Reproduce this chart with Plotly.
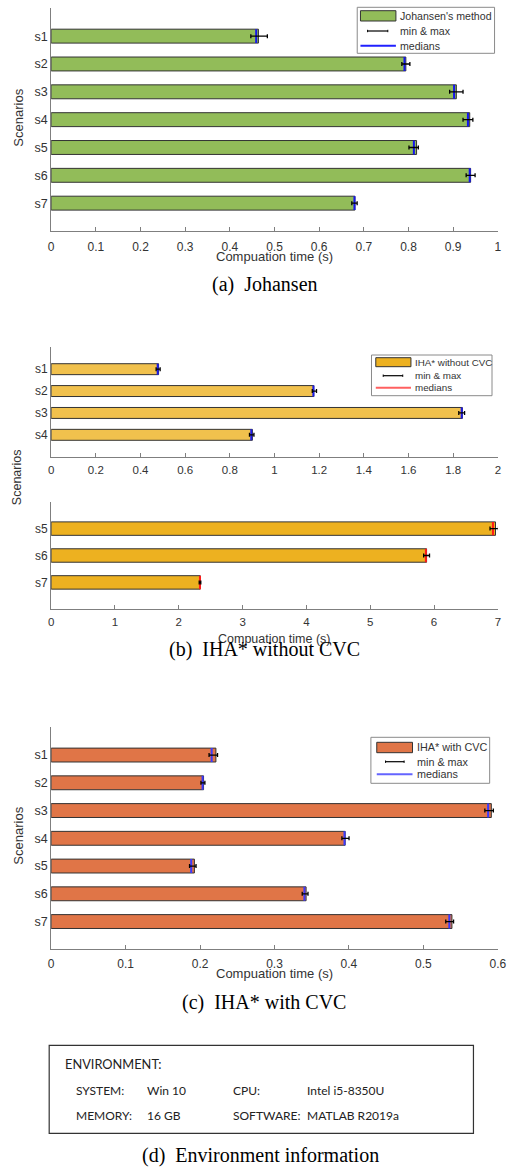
import plotly.graph_objects as go

W, H = 514, 1168

# ---------------- data ----------------
scen_a = ["s1", "s2", "s3", "s4", "s5", "s6", "s7"]
johansen_mean = [0.464, 0.794, 0.907, 0.937, 0.818, 0.939, 0.680]
johansen_median = [0.459, 0.791, 0.902, 0.933, 0.812, 0.937, 0.679]
johansen_min = [0.447, 0.785, 0.892, 0.922, 0.801, 0.929, 0.673]
johansen_max = [0.484, 0.803, 0.922, 0.944, 0.822, 0.949, 0.685]
ticks_a = [0, 0.1, 0.2, 0.3, 0.4, 0.5, 0.6, 0.7, 0.8, 0.9, 1]

scen_b1 = ["s1", "s2", "s3", "s4"]
nocvc_mean_1 = [0.481, 1.176, 1.841, 0.901]
nocvc_median_1 = [0.477, 1.174, 1.838, 0.896]
nocvc_min_1 = [0.470, 1.169, 1.825, 0.888]
nocvc_max_1 = [0.488, 1.188, 1.851, 0.908]
ticks_b1 = [0, 0.2, 0.4, 0.6, 0.8, 1, 1.2, 1.4, 1.6, 1.8, 2]

scen_b2 = ["s5", "s6", "s7"]
nocvc_mean_2 = [6.963, 5.883, 2.337]
nocvc_median_2 = [6.923, 5.872, 2.332]
nocvc_min_2 = [6.877, 5.837, 2.320]
nocvc_max_2 = [7.010, 5.929, 2.345]
ticks_b2 = [0, 1, 2, 3, 4, 5, 6, 7]

scen_c = ["s1", "s2", "s3", "s4", "s5", "s6", "s7"]
cvc_mean = [0.2213, 0.2047, 0.5912, 0.3949, 0.1924, 0.3424, 0.5383]
cvc_median = [0.2156, 0.2034, 0.5869, 0.3940, 0.1881, 0.3402, 0.5348]
cvc_min = [0.2121, 0.2012, 0.5825, 0.3905, 0.1859, 0.3372, 0.5300]
cvc_max = [0.2235, 0.2065, 0.5939, 0.4001, 0.1946, 0.3450, 0.5405]
ticks_c = [0, 0.1, 0.2, 0.3, 0.4, 0.5, 0.6]

legend_a = ["Johansen's method", "min & max", "medians"]
legend_b = ["IHA* without CVC", "min & max", "medians"]
legend_c = ["IHA* with CVC", "min & max", "medians"]
captions = ["(a)\u00a0\u00a0Johansen", "(b)\u00a0\u00a0IHA* without CVC",
            "(c)\u00a0\u00a0IHA* with CVC", "(d)\u00a0\u00a0Environment information"]
env_title = "ENVIRONMENT:"
env_rows = [["SYSTEM:", "Win 10", "CPU:", "Intel i5-8350U"],
            ["MEMORY:", "16 GB", "SOFTWARE:", "MATLAB R2019a"]]

# ---------------- helpers ----------------
def X(px):
    return px / W

def Y(py):
    return 1 - py / H

GREEN = "#92BC59"
YEL_L = "#F1C14D"
YEL = "#EDB120"
ORG = "#E07547"
EDGE = "#333333"
AX = "#7f7f7f"
TXT = "#333333"
FONT = "Liberation Sans, Arial, sans-serif"

fig = go.Figure()

def add_panel(k, names, start, mean, med, mn, mx, color, medcolor):
    xa = "x" if k == 1 else f"x{k}"
    ya = "y" if k == 1 else f"y{k}"
    pos = [start + i for i in range(len(names))]
    fig.add_trace(go.Bar(x=mean, y=pos, orientation="h", width=0.5,
                         marker=dict(color=color, line=dict(color=EDGE, width=1)),
                         xaxis=xa, yaxis=ya, showlegend=False, hoverinfo="skip"))
    lx, ly = [], []
    for p, m in zip(pos, med):
        lx += [m, m, None]
        ly += [p - 0.25, p + 0.25, None]
    fig.add_trace(go.Scatter(x=lx, y=ly, mode="lines", line=dict(color=medcolor, width=2),
                             xaxis=xa, yaxis=ya, showlegend=False, hoverinfo="skip",
                             cliponaxis=False))
    fig.add_trace(go.Scatter(x=med, y=pos, mode="markers", marker=dict(size=1, opacity=0),
                             error_x=dict(type="data", symmetric=False,
                                          array=[b - m for b, m in zip(mx, med)],
                                          arrayminus=[m - a for a, m in zip(mn, med)],
                                          width=2, thickness=1.3, color="black"),
                             xaxis=xa, yaxis=ya, showlegend=False, hoverinfo="skip",
                             cliponaxis=False))
    return pos

add_panel(1, scen_a, 1, johansen_mean, johansen_median, johansen_min, johansen_max, GREEN, "#1414ee")
add_panel(2, scen_b1, 1, nocvc_mean_1, nocvc_median_1, nocvc_min_1, nocvc_max_1, YEL_L, "#1a1aee")
add_panel(3, scen_b2, 5, nocvc_mean_2, nocvc_median_2, nocvc_min_2, nocvc_max_2, YEL, "#ff1a1a")
add_panel(4, scen_c, 1, cvc_mean, cvc_median, cvc_min, cvc_max, ORG, "#3a3aff")

def xaxis(dom_px, rng, ticks, anchor, standoff, size=12):
    return dict(domain=[X(dom_px[0]), X(dom_px[1])], range=rng, tickvals=ticks,
                ticktext=[f"{t:g}" for t in ticks], anchor=anchor,
                showline=True, linecolor=AX, linewidth=1, ticks="inside", ticklen=4,
                tickcolor=AX, showgrid=False, zeroline=False,
                tickfont=dict(family=FONT, size=size, color=TXT),
                ticklabelstandoff=standoff, fixedrange=True)

def yaxis(dom_py, rng, names, start, anchor, size=12.5):
    return dict(domain=[Y(dom_py[1]), Y(dom_py[0])], range=rng,
                tickvals=[start + i for i in range(len(names))], ticktext=names,
                anchor=anchor, showline=True, linecolor=AX, linewidth=1, ticks="",
                showgrid=False, zeroline=False,
                tickfont=dict(family=FONT, size=size, color=TXT), fixedrange=True)

XD = (49.3, 506.7)
fig.update_layout(
    xaxis=xaxis(XD, [0, 1], ticks_a, "y", 5),
    yaxis=yaxis((8.3, 231), [8, 0], scen_a, 1, "x"),
    xaxis2=xaxis(XD, [0, 2], ticks_b1, "y2", 2, 11.5),
    yaxis2=yaxis((347.3, 456.7), [5, 0], scen_b1, 1, "x2", 12),
    xaxis3=xaxis(XD, [0, 7], ticks_b2, "y3", 2, 11.5),
    yaxis3=yaxis((501.7, 609.3), [8, 4], scen_b2, 5, "x3", 12),
    xaxis4=xaxis(XD, [0, 0.6], ticks_c, "y4", 3),
    yaxis4=yaxis((727.3, 949.3), [8, 0], scen_c, 1, "x4"),
)

shapes = []
ann = []

def text(x, y, s, size, family=FONT, color=TXT, xanchor="center", angle=0):
    ann.append(dict(x=X(x), y=Y(y), xref="paper", yref="paper", text=s, showarrow=False,
                    xanchor=xanchor, yanchor="middle", textangle=angle,
                    font=dict(family=family, size=size, color=color)))

# axis titles
text(278.3, 256, "Compuation time (s)", 13)
text(278.3, 639, "Compuation time (s)", 12.5)
text(278.3, 974, "Compuation time (s)", 13)
text(15, 118, "Scenarios", 13, angle=-90)
text(15, 477.5, "Scenarios", 12.5, angle=-90)
text(15, 836, "Scenarios", 13, angle=-90)

# legends
def legend(box, sw, rows, text_x, mm, labels, color, medcolor, size):
    shapes.append(dict(type="rect", xref="paper", yref="paper", x0=X(box[0]), x1=X(box[1]),
                       y0=Y(box[3]), y1=Y(box[2]), line=dict(color="#8a8a8a", width=1),
                       fillcolor="white", layer="above"))
    shapes.append(dict(type="rect", xref="paper", yref="paper", x0=X(sw[0]), x1=X(sw[1]),
                       y0=Y(sw[3]), y1=Y(sw[2]), line=dict(color=EDGE, width=1),
                       fillcolor=color, layer="above"))
    shapes.append(dict(type="line", xref="paper", yref="paper", x0=X(mm[0]), x1=X(mm[1]),
                       y0=Y(rows[1]), y1=Y(rows[1]), line=dict(color="black", width=1.2),
                       layer="above"))
    for xx in mm:
        shapes.append(dict(type="line", xref="paper", yref="paper", x0=X(xx), x1=X(xx),
                           y0=Y(rows[1] - 1.2), y1=Y(rows[1] + 1.2),
                           line=dict(color="black", width=1), layer="above"))
    shapes.append(dict(type="line", xref="paper", yref="paper", x0=X(sw[0]), x1=X(sw[1]),
                       y0=Y(rows[2]), y1=Y(rows[2]), line=dict(color=medcolor, width=2),
                       layer="above"))
    for r, lab in zip(rows, labels):
        text(text_x, r, lab, size, xanchor="left")

legend((362.7, 503.3, 7.3, 53.3), (366, 402.3, 10.7, 21), (16, 31, 45.7), 404,
       (373.3, 394), legend_a, GREEN, "#2020ff", 10.6)
legend((377.3, 500.7, 355, 395.7), (381.7, 417.7, 357.7, 366.7), (362.3, 375.7, 387.7), 419.5,
       (389.3, 409.3), legend_b, YEL, "#ff6060", 9.8)
legend((376.7, 498.3, 737.3, 783.3), (382.7, 419.3, 742.3, 752.7), (746.7, 761.7, 774.3), 421.5,
       (391.7, 410.7), legend_c, ORG, "#6464ff", 10.8)

# captions
SERIF = "Liberation Serif, Times New Roman, serif"
text(268, 285, captions[0], 20, SERIF, "black")
text(268, 650, captions[1], 20, SERIF, "black")
text(267.5, 1002.5, captions[2], 20, SERIF, "black")
text(264, 1155.5, captions[3], 20, SERIF, "black")

# environment box
shapes.append(dict(type="rect", xref="paper", yref="paper", x0=X(47.3), x1=X(481.7),
                   y0=Y(1133.3), y1=Y(1045.3), line=dict(color="#333333", width=1.2)))
ENVF = "Lato, Carlito, sans-serif"
text(61, 1064.3, env_title, 12.8, ENVF, "#222222", xanchor="left")
cols = [72.5, 145.5, 233.5, 309.5]
for ry, row in zip([1090, 1115.7], env_rows):
    for cx, s in zip(cols, row):
        text(cx, ry, s, 12, ENVF, "#222222", xanchor="left")

fig.update_layout(width=W, height=H, autosize=False,
                  margin=dict(l=0, r=0, t=0, b=0, pad=0),
                  paper_bgcolor="white", plot_bgcolor="white",
                  shapes=shapes, annotations=ann, showlegend=False, barmode="overlay")

fig.write_html("out.html", config={"displayModeBar": False, "staticPlot": True},
               post_script="document.body.style.margin='0';document.body.style.padding='0';"
                           "document.body.style.overflow='hidden';"
                           "document.documentElement.style.overflow='hidden';")
